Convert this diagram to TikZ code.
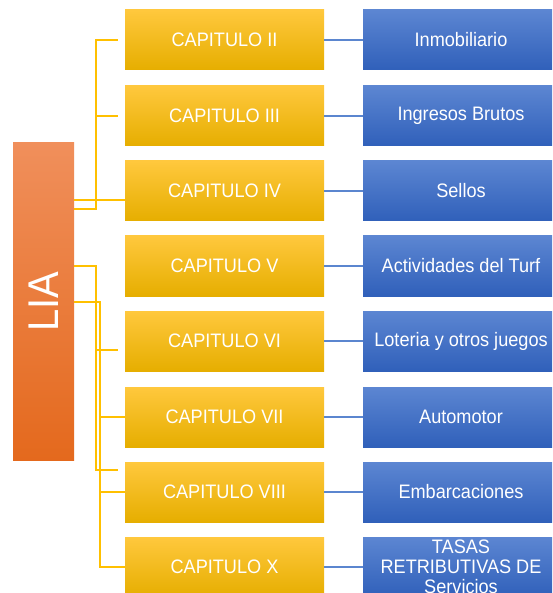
\documentclass[tikz,border=0pt]{standalone}
\usepackage{fontspec}
\setmainfont{Liberation Sans}[FakeStretch=0.93]
\definecolor{ytop}{HTML}{FFC83D}
\definecolor{ymid}{HTML}{FFC200}
\definecolor{ybot}{HTML}{E6AE00}
\definecolor{btop}{HTML}{5C86D2}
\definecolor{bmid}{HTML}{4472C4}
\definecolor{bbot}{HTML}{3060BA}
\definecolor{otop}{HTML}{F08F5B}
\definecolor{omid}{HTML}{F07E2E}
\definecolor{obot}{HTML}{E4691D}
\definecolor{yline}{HTML}{FFC000}
\definecolor{bline}{HTML}{5B86CF}
\tikzset{
  capbox/.style={shade, top color=ytop, middle color=ymid, bottom color=ybot,
    minimum width=199pt, minimum height=60pt, inner sep=0pt,
    text=white, font=\fontsize{19.5}{20}\selectfont},
  topicbox/.style={shade, top color=btop, middle color=bmid, bottom color=bbot,
    minimum width=196pt, minimum height=60pt, inner sep=0pt,
    text=white, font=\fontsize{19.5}{20}\selectfont},
  yl/.style={draw=yline, line width=1.6pt},
  bl/.style={draw=bline, line width=1.6pt}
}
\begin{document}
\begin{tikzpicture}[x=1pt,y=-1pt]
\useasboundingbox (0,0) rectangle (552,593);
\clip (0,0) rectangle (552,593);
\fill[white] (0,0) rectangle (552,593);
% LIA
\node[shade, top color=otop, middle color=omid, bottom color=obot,
  minimum width=61pt, minimum height=318pt, inner sep=0pt] (lia) at (43.5,301.7) {};
\node[rotate=90, text=white, font=\fontsize{43}{43}\selectfont] (liatxt) at (lia.center) {LIA};
% chapters
\node[capbox] (c2) at (224.5,40) {CAPITULO II};
\node[capbox] (c3) at (224.5,116) {CAPITULO III};
\node[capbox] (c4) at (224.5,191) {CAPITULO IV};
\node[capbox] (c5) at (224.5,266) {CAPITULO V};
\node[capbox] (c6) at (224.5,341) {CAPITULO VI};
\node[capbox] (c7) at (224.5,417) {CAPITULO VII};
\node[capbox] (c8) at (224.5,492) {CAPITULO VIII};
\node[capbox] (c10) at (224.5,567) {CAPITULO X};
% topics
\node[topicbox] (b2) at (461,40) {Inmobiliario};
\node[topicbox] (b3) at (461,116) {Ingresos Brutos};
\node[topicbox] (b4) at (461,191) {Sellos};
\node[topicbox] (b5) at (461,266) {Actividades del Turf};
\node[topicbox] (b6) at (461,341) {Loteria y otros juegos};
\node[topicbox] (b7) at (461,417) {Automotor};
\node[topicbox] (b8) at (461,492) {Embarcaciones};
\node[topicbox, align=center, inner ysep=0pt] (b10) at (461,567) {TASAS\\RETRIBUTIVAS DE\\Servicios};
% blue connectors
\foreach \n in {2,3,4,5,6,7,8,10} {
  \draw[bl] (c\n.east) -- (b\n.west);
}
% yellow connectors
\coordinate (j1) at (96,0);
\coordinate (j3) at (100,0);
\draw[yl] (lia.east |- 0,209) -| (j1 |- c2.west) -- ([xshift=-7pt]c2.west);
\draw[yl] (j1 |- c3.west) -- ([xshift=-7pt]c3.west);
\draw[yl] (lia.east |- 0,200) -- (c4.west |- 0,200);
\draw[yl] (lia.east |- 0,266) -| (j1 |- 0,470) -- ([xshift=-7pt]c8.west |- 0,470);
\draw[yl] (j1 |- 0,350) -- ([xshift=-7pt]c6.west |- 0,350);
\draw[yl] (lia.east |- 0,302) -| (j3 |- c10.west) -- (c10.west);
\draw[yl] (j3 |- c7.west) -- (c7.west);
\draw[yl] (j3 |- c8.west) -- (c8.west);
\end{tikzpicture}
\end{document}
